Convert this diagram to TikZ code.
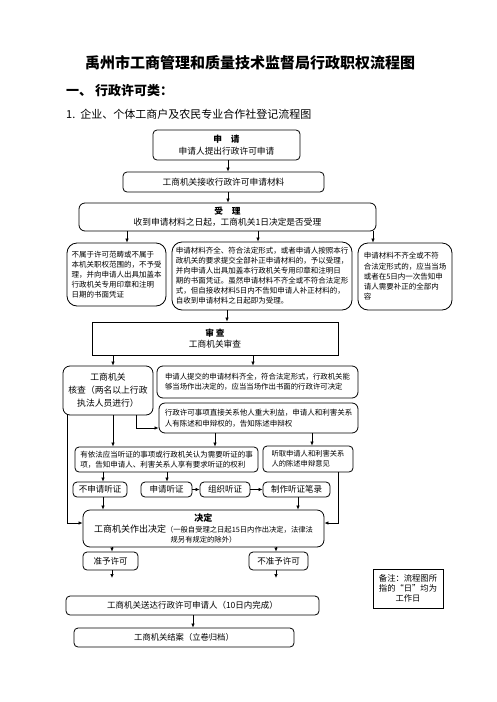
\documentclass[tikz,border=0pt]{standalone}
\usepackage{fontspec}
\setmainfont{Noto Sans CJK SC}
\usetikzlibrary{arrows.meta}
\begin{document}
\begin{tikzpicture}[x = 1pt, y = -1pt,
		box/.style = {draw, rounded corners = 4pt, line width = 0.8pt, inner sep = 1pt, align = center},
		bigbox/.style = {box, rounded corners = 10pt, align = left},
		plainbox/.style = {draw, line width = 0.8pt, inner sep = 1pt, align = center},
		arr/.style = {-{Latex[length = 4pt, width = 3.5pt]}, line width = 0.7pt},
		smalltext/.style = {font = \fontsize{7.4}{10}\selectfont},
		bodytext/.style = {font = \fontsize{8.7}{11}\selectfont}]
					\useasboundingbox (0, 0) rectangle (496, 702);

					\coordinate (cA) at (228, 0);
					\coordinate (cB) at (127, 0);
					\coordinate (cC) at (258, 0);
					\coordinate (cD) at (373, 0);
					\coordinate (cE) at (227, 0);
					\coordinate (cF) at (113, 0);
					\coordinate (cG) at (253, 0);
					\coordinate (cH) at (136, 428);
					\coordinate (cI) at (215, 0);
					\coordinate (cJ) at (312, 0);
					\coordinate (cK) at (67, 523);
					\coordinate (cL) at (338, 523);
					\coordinate (cM) at (103, 0);
					\coordinate (cN) at (167, 0);
					\coordinate (cO) at (298, 0);
					\coordinate (cP) at (112, 578);
					\coordinate (cQ) at (276, 578);
					\coordinate (cR) at (193, 0);

					\node [font = \bfseries\fontsize{15}{18}\selectfont] (title) at (250, 63) {禹州市工商管理和质量技术监督局行政职权流程图};
					\node [anchor = west, inner sep = 0pt, font = \bfseries\fontsize{13}{15}\selectfont] (heading) at (66, 91) {一、\ 行政许可类：};
					\node [anchor = west, inner sep = 0pt, font = \fontsize{11}{13}\selectfont] (subheading) at (66, 114) {1.\ \ 企业、个体工商户及农民专业合作社登记流程图};

					\node [box, bodytext, minimum width = 147pt, minimum height = 30pt] (shenqing) at (226.5, 145) {\textbf{申\quad 请}\\[1pt]申请人提出行政许可申请};
					\node [box, bodytext, minimum width = 201pt, minimum height = 20pt] (jieshou) at (223.5, 182) {工商机关接收行政许可申请材料};
					\node [box, bodytext, minimum width = 297pt, minimum height = 28pt, rounded corners = 6pt] (shouli) at (227.5, 217) {\textbf{受\quad 理}\\收到申请材料之日起，工商机关1日决定是否受理};

					\node [bigbox, font = \fontsize{7.5}{10}\selectfont, minimum width = 99pt, minimum height = 63pt] (buyu) at (116.5, 274.5) {不属于许可范畴或不属于\\本机关职权范围的，不予受\\理，并向申请人出具加盖本\\行政机关专用印章和注明\\日期的书面凭证};
					\node [bigbox, font = \fontsize{7.5}{10}\selectfont, minimum width = 180pt, minimum height = 68pt] (yuyu) at (262, 276) {申请材料齐全、符合法定形式，或者申请人按照本行\\政机关的要求提交全部补正申请材料的，予以受理，\\并向申请人出具加盖本行政机关专用印章和注明日\\期的书面凭证。虽然申请材料不齐全或不符合法定形\\式，但自接收材料5日内不告知申请人补正材料的，\\自收到申请材料之日起即为受理。};
					\node [bigbox, font = \fontsize{7.5}{10.3}\selectfont, minimum width = 94pt, minimum height = 67pt] (buzheng) at (405, 276.5) {申请材料不齐全或不符\\合法定形式的，应当当场\\或者在5日内一次告知申\\请人需要补正的全部内\\容};

					\node [plainbox, bodytext, minimum width = 246pt, minimum height = 33pt] (shencha) at (215, 338.5) {\textbf{审\ 查}\\工商机关审查};

					\node [box, font = \fontsize{8.8}{13}\selectfont, minimum width = 90pt, minimum height = 49pt, rounded corners = 7pt] (hecha) at (108, 390.5) {工商机关\\核查（两名以上行政\\执法人员进行）};
					\node [box, smalltext, align = left, minimum width = 201pt, minimum height = 32pt, rounded corners = 6pt] (dangchang) at (257.5, 382) {申请人提交的申请材料齐全，符合法定形式，行政机关能\\够当场作出决定的，应当当场作出书面的行政许可决定};
					\node [box, font = \fontsize{7.5}{11}\selectfont, align = left, minimum width = 199pt, minimum height = 30pt, rounded corners = 6pt] (gaozhi) at (258.5, 418) {行政许可事项直接关系他人重大利益，申请人和利害关系\\人有陈述和申辩权的，告知陈述申辩权};

					\node [box, font = \fontsize{7.5}{10}\selectfont, align = left, minimum width = 183pt, minimum height = 25pt] (tingzheng) at (166.5, 459.5) {有依法应当听证的事项或行政机关认为需要听证的事\\项，告知申请人、利害关系人享有要求听证的权利};
					\node [box, font = \fontsize{7.3}{10}\selectfont, align = left, minimum width = 90pt, minimum height = 26pt] (tingqu) at (308, 459) {听取申请人和利害关系\\人的陈述申辩意见};

					\node [box, font = \fontsize{8.5}{10}\selectfont, minimum width = 54pt, minimum height = 15pt] (bushen) at (100, 489.5) {不申请听证};
					\node [box, font = \fontsize{8.5}{10}\selectfont, minimum width = 51pt, minimum height = 15pt] (shenting) at (166.5, 489.5) {申请听证};
					\node [box, font = \fontsize{8.5}{10}\selectfont, minimum width = 50pt, minimum height = 15pt] (zuzhi) at (225, 489.5) {组织听证};
					\node [box, font = \fontsize{8.5}{10}\selectfont, minimum width = 67pt, minimum height = 15pt] (bilu) at (296.5, 489.5) {制作听证笔录};

					\node [box, font = \fontsize{9}{10.5}\selectfont, minimum width = 241pt, minimum height = 37pt, rounded corners = 7pt] (jueding) at (203.5, 528.5) {\textbf{决定}\\工商机关作出决定{\fontsize{7.3}{10}\selectfont（一般自受理之日起15日内作出决定，法律法}\\{\fontsize{7.3}{10}\selectfont 规另有规定的除外）}};

					\node [box, font = \fontsize{8.5}{10}\selectfont, minimum width = 55pt, minimum height = 18pt] (zhunyu) at (110.5, 561) {准予许可};
					\node [box, font = \fontsize{8.5}{10}\selectfont, minimum width = 59pt, minimum height = 18pt] (buzhun) at (278.5, 561) {不准予许可};

					\node [box, font = \fontsize{8.5}{10}\selectfont, minimum width = 253pt, minimum height = 19pt] (songda) at (192.5, 605.5) {工商机关送达行政许可申请人（10日内完成）};
					\node [box, font = \fontsize{8.3}{10}\selectfont, minimum width = 220pt, minimum height = 19pt] (jiean) at (184, 637.5) {工商机关结案（立卷归档）};

					\node [plainbox, font = \fontsize{8.3}{10}\selectfont, minimum width = 70pt, minimum height = 39pt] (beizhu) at (408, 588.5) {备注：流程图所\\指的“日”均为\\工作日};

					\draw [arr] (shenqing.south -| cA) -- (jieshou.north -| cA);
					\draw [arr] (jieshou.south -| cA) -- (shouli.north -| cA);

					\draw [arr] (shouli.south -| cB) -- (buyu.north -| cB);
					\draw [arr] (shouli.south -| cC) -- (yuyu.north -| cC);
					\draw [arr] (shouli.south -| cD) -- (buzheng.north -| cD);

					\draw [arr] (yuyu.south -| cE) -- (shencha.north -| cE);

					\draw [arr] (shencha.south -| cF) -- (hecha.north -| cF);
					\draw [arr] (shencha.south -| cG) -- (dangchang.north -| cG);

					\draw [arr] (hecha.south -| cH) -- (cH) -- (gaozhi.west |- cH);
					\draw [arr] (hecha.south -| cF) -- (tingzheng.north -| cF);
					\draw [arr] (hecha.south -| cK) -- (cK) -- (jueding.west |- cK);

					\draw [arr] (gaozhi.south -| cI) -- (tingzheng.north -| cI);
					\draw [arr] (gaozhi.south -| cJ) -- (tingqu.north -| cJ);

					\draw [arr] (tingqu.south -| cL) -- (cL) -- (jueding.east |- cL);

					\draw [arr] (tingzheng.south -| cM) -- (bushen.north -| cM);
					\draw [arr] (tingzheng.south -| cN) -- (shenting.north -| cN);

					\draw [arr] (shenting) -- (zuzhi);
					\draw [arr] (zuzhi) -- (bilu);

					\draw [arr] (bushen.south -| cM) -- (jueding.north -| cM);
					\draw [arr] (bilu.south -| cO) -- (jueding.north -| cO);

					\draw [arr] (jueding.south -| cP) -- (zhunyu.north -| cP);
					\draw [arr] (jueding.south -| cQ) -- (buzhun.north -| cQ);

					\draw [arr] (zhunyu.south -| cP) -- (cP);
					\draw [arr] (buzhun.south -| cQ) -- (cQ);

					\draw [arr] (songda.south -| cR) -- (jiean.north -| cR);
				\end{tikzpicture}
\end{document}
